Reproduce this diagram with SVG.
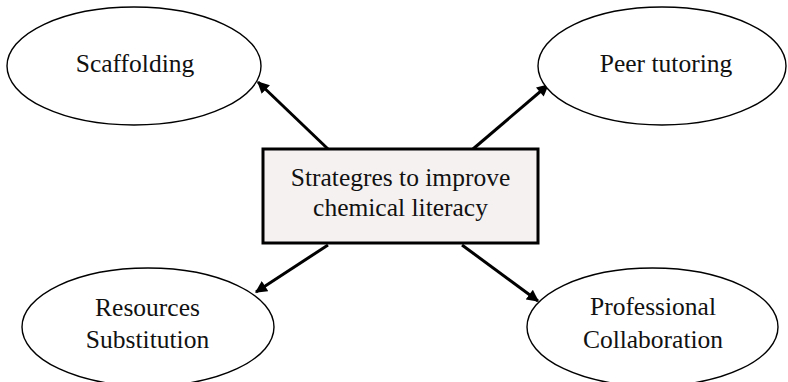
<svg xmlns="http://www.w3.org/2000/svg" width="788" height="382" viewBox="0 0 788 382">
<defs>
<style>
.node ellipse{fill:#ffffff;stroke:#000000;stroke-width:1.4}
.box{fill:#f5f1f1;stroke:#000000;stroke-width:3}
text{font-family:"Liberation Serif","Times New Roman",serif;font-size:25.5px;fill:#111111;text-anchor:middle}
.edge{stroke:#000000;stroke-width:3;fill:none;marker-end:url(#arrow)}
</style>
<marker id="arrow" viewBox="0 0 10 10" refX="9" refY="5" markerWidth="4.2" markerHeight="4" orient="auto" markerUnits="strokeWidth">
<path d="M0,0 L10,5 L0,10 z" fill="#000000"/>
</marker>
</defs>
<rect width="788" height="382" fill="#ffffff"/>
<g id="connectors">
<line class="edge" x1="328" y1="149" x2="258" y2="82"/>
<line class="edge" x1="473" y1="149" x2="548" y2="85"/>
<line class="edge" x1="328" y1="245" x2="256" y2="292"/>
<line class="edge" x1="462" y1="245" x2="538" y2="301"/>
</g>
<g id="center" class="node">
<rect class="box" x="263" y="149" width="275" height="94"/>
<text x="400.5" y="186">Strategres to improve</text>
<text x="400.5" y="216">chemical literacy</text>
</g>
<g id="scaffolding" class="node">
<ellipse cx="134" cy="66" rx="127" ry="59"/>
<text x="135" y="72">Scaffolding</text>
</g>
<g id="peer-tutoring" class="node">
<ellipse cx="662" cy="66" rx="124" ry="59"/>
<text x="666" y="72">Peer tutoring</text>
</g>
<g id="resources-substitution" class="node">
<ellipse cx="148" cy="327" rx="126" ry="59"/>
<text x="147.5" y="316">Resources</text>
<text x="147.5" y="348">Substitution</text>
</g>
<g id="professional-collaboration" class="node">
<ellipse cx="652.5" cy="327" rx="125.5" ry="59"/>
<text x="653" y="315">Professional</text>
<text x="653" y="348">Collaboration</text>
</g>
</svg>
